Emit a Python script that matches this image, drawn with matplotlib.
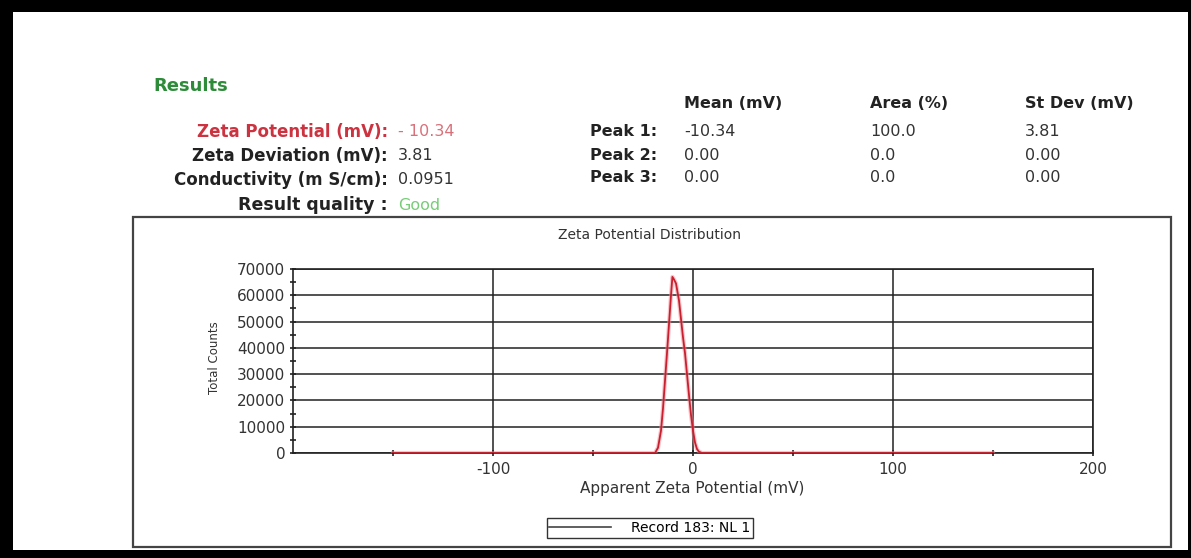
import matplotlib
matplotlib.use("Agg")
import matplotlib.pyplot as plt
from matplotlib.lines import Line2D
from matplotlib.patches import Rectangle
from matplotlib.ticker import MultipleLocator, FixedLocator

plt.rcParams.update({'font.family': 'DejaVu Sans'})

W, H = 1191, 558

# --- data ---
zeta_mv = [-150, -19, -17.5, -16, -15, -14, -13, -12, -11, -10.3, -9.5, -8.5,
           -7, -6, -5, -4, -3, -2, -1, 0, 1, 2, 3, 4.5, 150]
counts = [0, 0, 2000, 8500, 17000, 27500, 38000, 49000, 60000, 67000, 66000, 64500,
          58000, 51000, 44000, 38000, 30000, 22000, 14500, 8500, 4000, 1500, 500, 0, 0]

summary_labels = ["Zeta Potential (mV):", "Zeta Deviation (mV):",
                  "Conductivity (m S/cm):", "Result quality :"]
summary_values = ["- 10.34", "3.81", "0.0951", "Good"]

peak_names = ["Peak 1:", "Peak 2:", "Peak 3:"]
peak_cols = ["Mean (mV)", "Area (%)", "St Dev (mV)"]
peak_mean = ["-10.34", "0.00", "0.00"]
peak_area = ["100.0", "0.0", "0.0"]
peak_sd = ["3.81", "0.00", "0.00"]

x_ticks = [-100, 0, 100, 200]
x_ticklabels = ["-100", "0", "100", "200"]
legend_label = "Record 183: NL 1"


def px(x, y):
    # pixel coords (from top-left) -> figure fraction
    return x / W, 1 - y / H


fig = plt.figure(figsize=(W / 100, H / 100), dpi=100)
fig.patch.set_facecolor('white')

# outer black frame
for (x0, y0, w, h) in [(0, 0, W, 12), (0, 0, 13, H), (0, H - 8, W, 8), (W - 3, 0, 3, H)]:
    fx, fy = x0 / W, 1 - (y0 + h) / H
    fig.patches.append(Rectangle((fx, fy), w / W, h / H, transform=fig.transFigure,
                                 facecolor='black', edgecolor='none', zorder=10))

# chart box
bx0, by0 = px(133, 547)
fig.patches.append(Rectangle((bx0, by0), (1171 - 133) / W, (547 - 217) / H,
                             transform=fig.transFigure, facecolor='none',
                             edgecolor='#444444', lw=1.6, zorder=5))

# --- header text ---
fig.text(*px(153, 86), "Results", color='#2e8b3a', fontsize=13, fontweight='bold',
         ha='left', va='center')

row_y = [132, 156, 180, 205]
label_colors = ['#cc3340', '#222222', '#222222', '#222222']
value_colors = ['#d9707a', '#333333', '#333333', '#77cc77']
for i, (lab, val) in enumerate(zip(summary_labels, summary_values)):
    fs = 12.5 if i == 3 else 12
    fig.text(*px(388, row_y[i]), lab, color=label_colors[i], fontsize=fs,
             fontweight='bold', ha='right', va='center')
    fig.text(*px(398, row_y[i]), val, color=value_colors[i], fontsize=11.5,
             ha='left', va='center')

col_x = [684, 870, 1025]
peak_y = [132, 155, 178]
for cx, name in zip(col_x, peak_cols):
    fig.text(*px(cx, 103), name, color='#222222', fontsize=11.5, fontweight='bold',
             ha='left', va='center')
for i, name in enumerate(peak_names):
    fig.text(*px(590, peak_y[i]), name, color='#222222', fontsize=11.5,
             fontweight='bold', ha='left', va='center')
    for cx, vals in zip(col_x, [peak_mean, peak_area, peak_sd]):
        fig.text(*px(cx, peak_y[i]), vals[i], color='#333333', fontsize=11.5,
                 ha='left', va='center')

# --- distribution plot ---
ax = fig.add_axes([293 / W, (H - 453) / H, 800 / W, 184 / H])
ax.plot(zeta_mv, counts, color='#f08a95', lw=3.0, alpha=0.5, zorder=3)
ax.plot(zeta_mv, counts, color='#c8202e', lw=1.3, zorder=4)

ax.set_xlim(-200, 200)
ax.set_ylim(0, 70000)
ax.xaxis.set_major_locator(FixedLocator(x_ticks))
ax.set_xticklabels(x_ticklabels)
ax.xaxis.set_minor_locator(FixedLocator([-150, -50, 50, 150]))
ax.yaxis.set_major_locator(MultipleLocator(10000))
ax.yaxis.set_minor_locator(MultipleLocator(5000))

ax.grid(True, which='major', color='#222222', lw=1.1)
ax.set_axisbelow(True)
for s in ax.spines.values():
    s.set_color('#222222')
    s.set_linewidth(1.2)

ax.tick_params(axis='both', which='major', direction='inout', length=5, width=1.2,
               color='#222222', labelsize=11, labelcolor='#333333')
ax.tick_params(axis='x', which='major', pad=4)
ax.tick_params(axis='y', which='major', pad=3)
ax.tick_params(axis='both', which='minor', direction='inout', length=4, width=1.2,
               color='#222222')

fig.text(*px(650, 235), "Zeta Potential Distribution", fontsize=10, color='#333333',
         ha='center', va='center')
fig.text(*px(214, 358), "Total Counts", fontsize=8.5, color='#333333', rotation=90,
         ha='center', va='center')
fig.text(*px(692, 488), "Apparent Zeta Potential (mV)", fontsize=11, color='#333333',
         ha='center', va='center')

handle = Line2D([], [], color='#444444', lw=1.2)
lx, ly = px(650, 528)
fig.legend([handle], [legend_label], loc='center', bbox_to_anchor=(lx, ly),
           bbox_transform=fig.transFigure, frameon=True, fancybox=False,
           edgecolor='#333333', framealpha=1, fontsize=10, handlelength=4.4,
           borderpad=0.2, handletextpad=1.5, borderaxespad=0)

fig.savefig("out.png", dpi=100)
